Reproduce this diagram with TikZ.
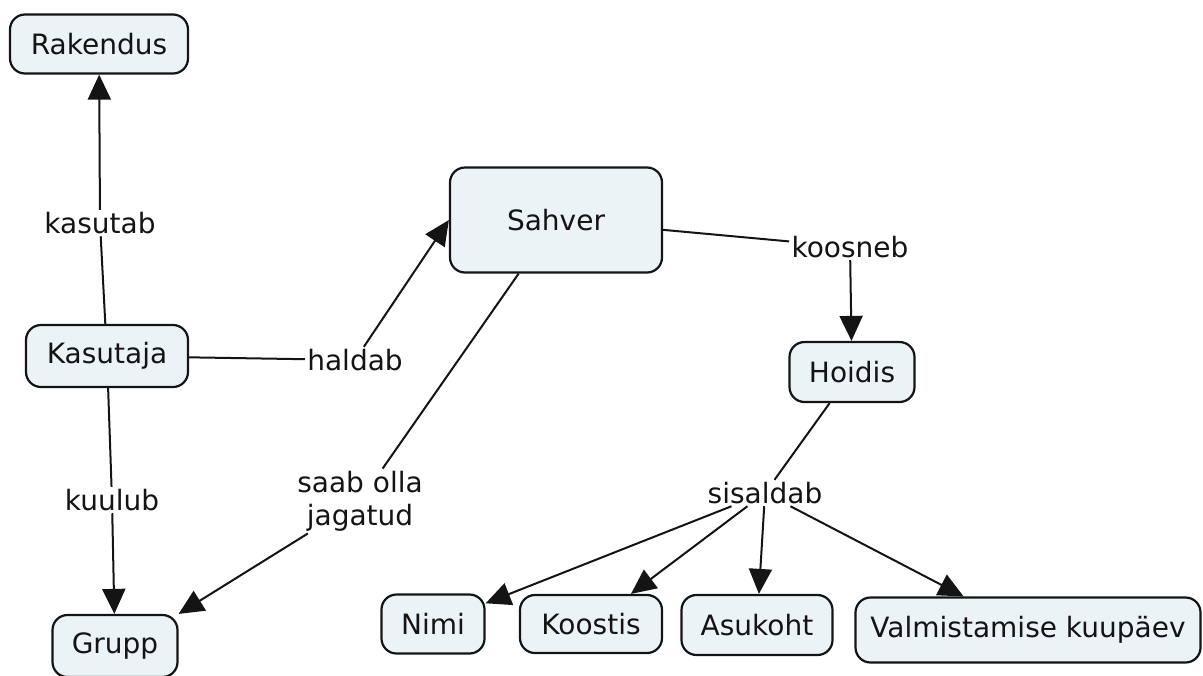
\documentclass[tikz,border=0pt]{standalone}
\usepackage{fontspec}
\setmainfont{DejaVu Sans}
\usepackage{tikz}
\usetikzlibrary{arrows.meta}
\definecolor{conceptfill}{RGB}{236,243,246}
\definecolor{inkgray}{RGB}{20,20,20}

\begin{document}
\begin{tikzpicture}[x=0.5pt,y=-0.5pt,font=\fontsize{14}{16.5}\selectfont,text=inkgray]
    \tikzstyle{concept}=[draw=inkgray, line width=1.1pt, fill=conceptfill, rounded corners=7.5pt, inner sep=0pt, align=center]
    \tikzstyle{linkword}=[inner sep=1pt, fill=white, align=center]
    \tikzstyle{link}=[line width=1pt, draw=inkgray]
    \tikzstyle{arrow}=[link, -{Triangle[length=12.5pt,width=11.5pt]}]
    \useasboundingbox (0,0) rectangle (1203,675);

    \node[concept, minimum width=89pt, minimum height=29.5pt] (rakendus) at (99,44) {Rakendus};
    \node[concept, minimum width=106pt, minimum height=52.5pt] (sahver) at (556,220) {Sahver};
    \node[concept, minimum width=81pt, minimum height=31pt] (kasutaja) at (107,356) {Kasutaja};
    \node[concept, minimum width=62.5pt, minimum height=30pt] (hoidis) at (852,372) {Hoidis};
    \node[concept, minimum width=62.5pt, minimum height=31pt] (grupp) at (115,646) {Grupp};
    \node[concept, minimum width=51.5pt, minimum height=29.5pt] (nimi) at (433,624) {Nimi};
    \node[concept, minimum width=71pt, minimum height=29pt] (koostis) at (591,624) {Koostis};
    \node[concept, minimum width=75.5pt, minimum height=30pt] (asukoht) at (757,625) {Asukoht};
    \node[concept, minimum width=172.5pt, minimum height=32.5pt] (valmistamine) at (1028,630) {Valmistamise kuupäev};

    \node[linkword] (kasutab) at (100,223) {kasutab};
    \node[linkword] (haldab) at (355,360) {haldab};
    \node[linkword] (kuulub) at (112,500) {kuulub};
    \node[linkword] (jagatud) at (360,501) {saab olla\\jagatud};
    \node[linkword] (koosneb) at (850,247) {koosneb};
    \node[linkword] (sisaldab) at (765,493) {sisaldab};

    \draw[link] (kasutaja) -- (kasutab);
    \draw[arrow] (kasutab) -- (rakendus);
    \draw[link] (kasutaja) -- (haldab);
    \draw[arrow] (haldab) -- (sahver.west);
    \draw[link] (kasutaja) -- (kuulub);
    \draw[arrow] (kuulub) -- (grupp);
    \draw[link] (sahver) -- (jagatud);
    \draw[arrow] (jagatud) -- (grupp.north east);
    \draw[link] (sahver) -- (koosneb);
    \draw[arrow] (koosneb) -- (hoidis);
    \draw[link] (hoidis) -- (sisaldab);
    \draw[arrow] (sisaldab) -- (nimi);
    \draw[arrow] (sisaldab) -- (koostis);
    \draw[arrow] (sisaldab) -- (asukoht);
    \draw[arrow] (sisaldab) -- (valmistamine);
\end{tikzpicture}
\end{document}
